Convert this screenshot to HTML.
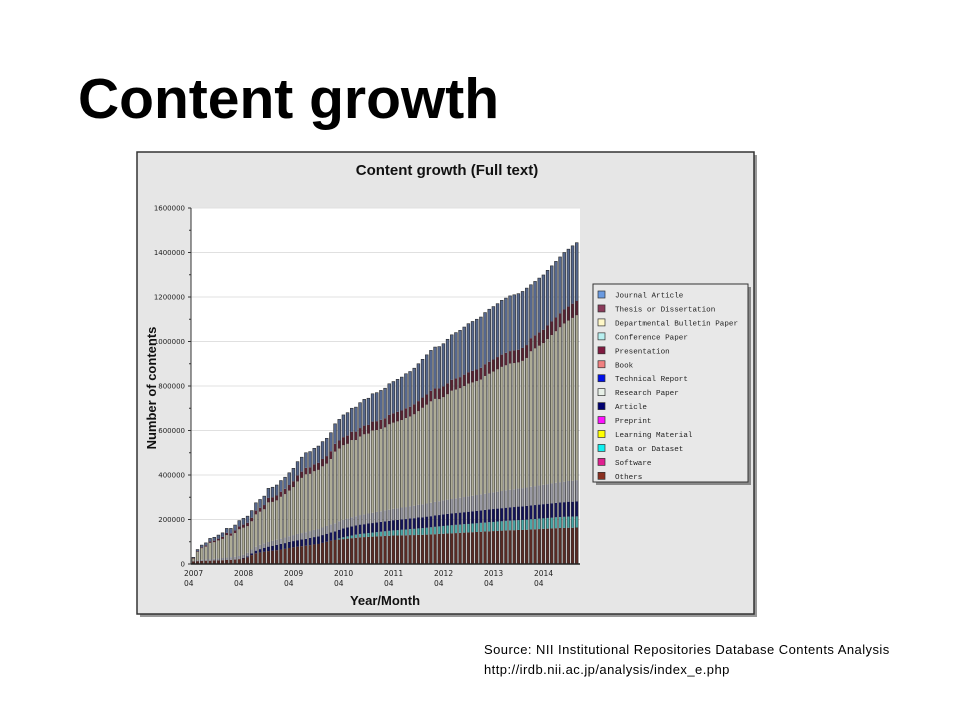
<!DOCTYPE html>
<html><head><meta charset="utf-8">
<style>
body{margin:0;background:#fff;width:960px;height:720px;overflow:hidden;font-family:"Liberation Sans",sans-serif;}
#title{position:absolute;left:78px;top:66px;font-size:57px;font-weight:bold;color:#000;margin:0;}
#src{position:absolute;left:484px;top:640px;font-size:13px;line-height:20px;color:#000;letter-spacing:0.45px;}
svg{position:absolute;left:0;top:0;}
</style></head><body>
<h1 id="title">Content growth</h1>
<svg id="chart" width="960" height="720"></svg>
<div id="src">Source: NII Institutional Repositories Database Contents Analysis<br>http://irdb.nii.ac.jp/analysis/index_e.php</div>
<script>
const yTicks=[0,200000,400000,600000,800000,1000000,1200000,1400000,1600000];
const xTickLabels=["2007","2008","2009","2010","2011","2012","2013","2014"];
const legendLabels=["Journal Article","Thesis or Dissertation","Departmental Bulletin Paper","Conference Paper","Presentation","Book","Technical Report","Research Paper","Article","Preprint","Learning Material","Data or Dataset","Software","Others"];
const legendColors=["#6a9ae0","#8a3a5a","#fff8c8","#b8f0f0","#801a40","#f08080","#0010e8","#e8f0e8","#000070","#ff10ff","#ffff00","#10f0f0","#e02090","#8a3020"];
// totals in thousands, one per month 2007/04 .. 2014/12
const totals=[30,65,85,95,115,120,130,140,160,
160,175,195,205,215,240,275,290,305,340,345,355,
375,390,410,430,460,480,500,505,520,530,550,565,
590,630,650,670,680,700,705,725,740,745,765,770,
780,790,810,820,830,840,855,865,880,900,920,940,
960,975,977,990,1010,1030,1040,1050,1065,1080,1090,1100,
1110,1130,1145,1157,1170,1185,1195,1205,1210,1215,1225,1240,
1255,1270,1285,1299,1320,1340,1360,1380,1400,1415,1430,1444];
const others=[12,13,14,15,15,16,16,17,18,
19,20,22,25,30,40,48,52,55,58,60,62,
65,68,72,75,78,80,82,85,88,90,95,100,
105,108,110,112,114,116,118,120,121,122,123,124,
125,126,127,128,128,129,129,130,130,131,131,132,
133,134,135,136,137,138,139,140,141,142,143,144,
145,146,147,148,149,150,151,152,152,153,153,154,
155,156,157,158,159,160,161,162,162,163,163,164];
const dataset=[0,0,0,0,0,0,0,0,0,
0,0,0,0,0,0,0,0,0,0,0,0,
0,0,0,0,0,0,0,0,0,0,0,0,
0,0,5,8,10,12,14,15,16,17,18,19,
20,21,22,23,24,25,26,27,28,29,30,31,
32,33,34,35,36,36,37,37,38,38,39,39,
40,40,41,41,42,42,43,43,44,44,45,45,
46,46,47,47,48,48,49,49,50,50,50,50];
const article=[0,0,0,0,0,0,0,0,0,
0,0,0,2,4,8,12,15,18,20,22,24,
25,26,27,28,29,30,31,32,33,34,35,36,
37,38,39,40,40,41,41,42,42,43,43,44,
44,45,45,46,46,47,47,48,48,49,49,50,
50,51,51,52,52,53,53,54,54,55,55,56,
56,57,57,58,58,59,59,60,60,61,61,62,
62,63,63,64,64,65,65,66,66,67,67,68];
const misc=[3,4,5,6,7,8,9,10,11,
12,13,14,15,16,17,18,19,20,21,22,23,
24,25,26,27,28,29,30,31,32,33,34,35,
36,37,38,39,40,41,42,43,44,45,46,47,
48,49,50,51,52,53,54,55,56,57,58,59,
60,61,62,63,64,65,66,67,68,69,70,71,
72,73,74,75,76,77,78,79,80,81,82,83,
84,85,86,87,88,89,90,91,92,93,94,95];
const thesis=[2,3,4,5,6,7,8,9,10,
11,12,13,14,15,16,17,18,19,20,21,22,
23,24,25,26,27,28,29,30,31,32,33,34,
35,35,36,36,37,37,38,38,39,39,40,40,
41,41,42,42,43,43,44,44,45,45,46,46,
47,47,48,48,49,49,50,50,51,51,52,52,
53,53,54,54,55,55,56,56,57,57,58,58,
59,59,60,60,61,61,62,62,63,63,64,64];
const journal=[3,8,10,12,14,15,16,18,20,
22,24,26,28,30,32,35,37,40,43,45,47,
50,52,55,58,62,65,68,70,72,75,78,80,
83,90,95,100,103,106,110,114,118,120,125,128,
132,135,140,143,146,150,155,158,162,168,172,178,
182,186,188,192,198,202,206,210,214,218,222,226,
228,232,236,238,240,244,246,248,250,252,254,256,
240,242,244,246,248,250,252,254,256,258,260,262];

const NS="http://www.w3.org/2000/svg";
const svg=document.getElementById('chart');
function mk(tag,attrs,parent){const e=document.createElementNS(NS,tag);for(const k in attrs)e.setAttribute(k,attrs[k]);(parent||svg).appendChild(e);return e;}
const X0=192,X1=580,Y0=564,Y1=208,MAXV=1600000;
const yScale=v=>Y0-(v/MAXV)*(Y0-Y1);
const MONTH_W=50/12;
const xScale=i=>X0+i*MONTH_W;

let g=mk('g',{});

mk('rect',{x:140,y:155,width:617,height:462,fill:'#999'},g);
let panel=mk('rect',{x:137,y:152,width:617,height:462,fill:'#e6e6e6',stroke:'#333','stroke-width':1.5});

let ct=mk('text',{x:447,y:175,'text-anchor':'middle','font-size':15,'font-weight':'bold','font-family':'Liberation Sans, sans-serif',fill:'#111'});
ct.textContent='Content growth (Full text)';

let pa=mk('rect',{x:191,y:Y1,width:X1-191,height:Y0-Y1,fill:'#fff'});

yTicks.forEach((t,i)=>{
  const y=yScale(t);
  if(t>0){let gl=mk('line',{x1:191,x2:X1,y1:y,y2:y,stroke:'#e0e0e0','stroke-width':1});}
  let tk=mk('line',{x1:188,x2:191,y1:y,y2:y,stroke:'#333'});
  if(i<yTicks.length-1){let y2=yScale(t+100000);let mt=mk('line',{x1:189,x2:191,y1:y2,y2:y2,stroke:'#333'});}
  let lb=mk('text',{x:185,y:y+2.5,'text-anchor':'end','font-size':7,'font-family':'DejaVu Sans, sans-serif',fill:'#222'});
  lb.textContent=String(t);
  
});
let ya=mk('line',{x1:191,x2:191,y1:Y1,y2:Y0,stroke:'#333'});
const series=[others,dataset,article,misc,null,thesis,journal];
const scol=['#5a2a24','#4aa8a8','#14145a','#9a9aa4','#aeac96','#5a2434','#56688f'];
const snames=['others','dataset','article','misc','bulletin','thesis','journal'];
totals.forEach((tot,i)=>{
  const bx=xScale(i);
  const bg=mk('g',{});
  
  let acc=0;
  const fixed=others[i]+dataset[i]+article[i]+misc[i]+thesis[i]+journal[i];
  series.forEach((s,k)=>{
    const v=s?s[i]:Math.max(0,tot-fixed);
    if(v<=0)return;
    const ya=yScale(acc*1000),yb=yScale((acc+v)*1000);
    const r=mk('rect',{x:bx,y:yb,width:2.8,height:Math.max(0.5,ya-yb),fill:scol[k]},bg);
    
    acc+=v;
  });
  const o=mk('rect',{x:bx,y:yScale(acc*1000),width:2.8,height:Y0-yScale(acc*1000),fill:'none',stroke:'#2a2a2a','stroke-width':0.6},bg);
  
});
let xa=mk('line',{x1:191,x2:X1,y1:Y0,y2:Y0,stroke:'#222','stroke-width':1.5});
xTickLabels.forEach((l,i)=>{
  const x=xScale(i*12)-8;
  let t1=mk('text',{x:x,y:576,'font-size':7.5,'font-family':'DejaVu Sans, sans-serif',fill:'#222'});t1.textContent=l;
  
  let t2=mk('text',{x:x,y:586,'font-size':7.5,'font-family':'DejaVu Sans, sans-serif',fill:'#222'});t2.textContent='04';
  
});
let xt=mk('text',{x:385,y:605,'text-anchor':'middle','font-size':13,'font-weight':'bold','font-family':'Liberation Sans, sans-serif',fill:'#111'});
xt.textContent='Year/Month';
let yt=mk('text',{x:156,y:388,'text-anchor':'middle','font-size':13,'font-weight':'bold','font-family':'Liberation Sans, sans-serif',fill:'#111',transform:'rotate(-90 156 388)'});
yt.textContent='Number of contents';
const lg=mk('g',{});

mk('rect',{x:596,y:287,width:155,height:198,fill:'#888'},lg);
mk('rect',{x:593,y:284,width:155,height:198,fill:'#e8e8e8',stroke:'#333','stroke-width':1},lg);
legendLabels.forEach((l,i)=>{
  const y=295+i*13.95;
  const e=mk('g',{},lg);
  
  mk('rect',{x:598,y:y-4,width:7,height:7,fill:legendColors[i],stroke:'#333','stroke-width':0.7},e);
  const t=mk('text',{x:615,y:y+2.5,'font-size':7.6,'font-family':'Liberation Mono, monospace',fill:'#222'},e);
  t.textContent=l;
});
</script>
</body></html>
